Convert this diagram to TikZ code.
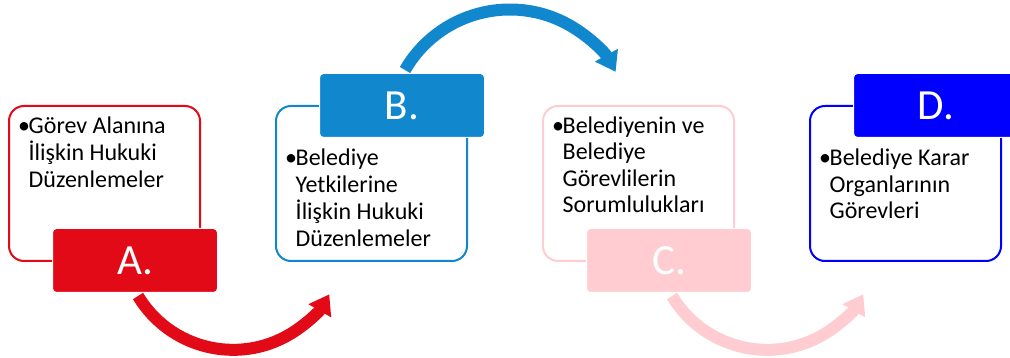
\documentclass[tikz,border=0pt]{standalone}
\usepackage{fontspec}
\setmainfont{Carlito}
\usetikzlibrary{arrows.meta}
\definecolor{stepRed}{HTML}{E30A17}
\definecolor{stepBlue}{HTML}{1187CE}
\definecolor{stepPink}{HTML}{FFCDD1}
\definecolor{stepNavy}{HTML}{0000FF}
\newcommand{\bul}[1]{\makebox[10.5pt][l]{\textbullet}\begin{tabular}[t]{@{}l@{}}#1\end{tabular}}
\begin{document}
\begin{tikzpicture}[x=1pt,y=-1pt,
frame/.style={draw=#1,line width=2pt,rounded corners=15pt,minimum width=191pt,minimum height=155pt,anchor=north west,inner sep=0pt},
lab/.style={fill=#1,draw=white,line width=1pt,rounded corners=4pt,minimum width=165pt,minimum height=64pt,anchor=north west,inner sep=0pt,text=white,font=\fontsize{43}{52}\selectfont},
txt/.style={anchor=base west,inner sep=0pt,font=\fontsize{24}{26.4}\selectfont},
bendarrow/.style={draw=#1,line width=12pt,-{Triangle[length=19pt,width=25pt]}}]
\useasboundingbox(0,0)rectangle(1010,358);
% frames
\node[frame=stepRed](frmA)at(8,105){};
\node[frame=stepBlue](frmB)at(275,105){};
\node[frame=stepPink](frmC)at(542,105){};
\node[frame=stepNavy](frmD)at(809,105){};
% texts
\node[txt](txtA)at(18,133.5){\bul{Görev Alanına\\İlişkin Hukuki\\Düzenlemeler}};
\node[txt](txtB)at(285,166){\bul{Belediye\\Yetkilerine\\İlişkin Hukuki\\Düzenlemeler}};
\node[txt](txtC)at(552,133.5){\bul{Belediyenin ve\\Belediye\\Görevlilerin\\Sorumlulukları}};
\node[txt](txtD)at(819,166){\bul{Belediye Karar\\Organlarının\\Görevleri}};
% labels
\node[lab=stepRed](labA)at(52,228){A.};
\node[lab=stepBlue](labB)at(319,73){B.};
\node[lab=stepPink](labC)at(586,228){C.};
\node[lab=stepNavy](labD)at(853,73){D.};
% arrows
\draw[bendarrow=stepRed](labA.south west)++(86,3)arc[start angle=149,end angle=30,radius=111];
\draw[bendarrow=stepBlue](labB.north west)++(86,-3)arc[start angle=210,end angle=331,radius=121];
\draw[bendarrow=stepPink](labC.south west)++(86,3)arc[start angle=149,end angle=30,radius=111];
\end{tikzpicture}
\end{document}
